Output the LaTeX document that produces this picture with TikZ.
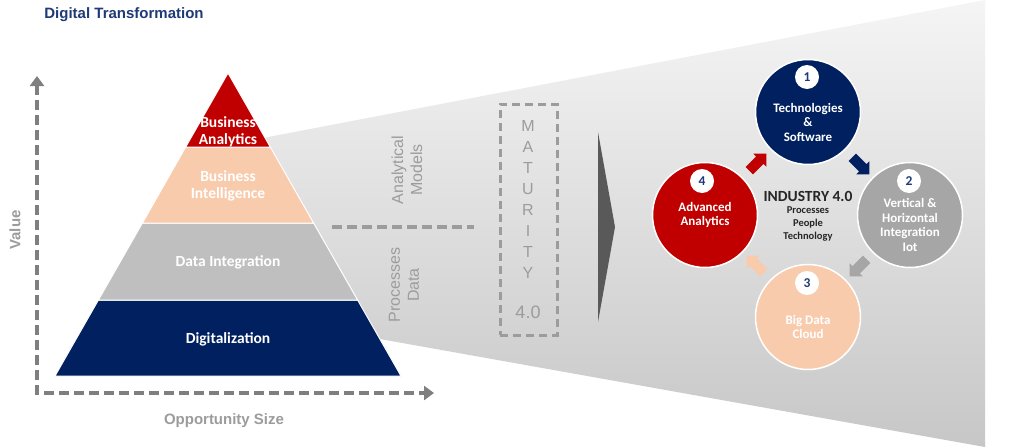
\documentclass[tikz,border=0pt]{standalone}
\usepackage{fontspec}
\setmainfont{Carlito}
\newfontfamily\arialfont{Liberation Sans}
\usetikzlibrary{arrows.meta,shapes.arrows}
\definecolor{dtnavy}{HTML}{002060}
\definecolor{dtred}{HTML}{C00000}
\definecolor{dtpeach}{HTML}{F8CBAD}
\definecolor{dtgray}{HTML}{BFBFBF}
\definecolor{dtcircgray}{HTML}{A6A6A6}
\definecolor{dtmid}{HTML}{9C9C9C}
\definecolor{dtaxis}{HTML}{7F7F7F}
\definecolor{dttitle}{HTML}{1F3A78}
\definecolor{dtdark}{HTML}{262626}

\begin{document}
\begin{tikzpicture}[x=1pt,y=-1pt,
  axis/.style={dtaxis,line width=4pt,dash pattern=on 10pt off 5pt},
  layer/.style={draw=white,line width=1pt},
  ltext/.style={text=white,font=\bfseries\fontsize{15.5}{17.5}\selectfont,align=center},
  gtext/.style={text=dtmid,font=\arialfont\fontsize{16}{19}\selectfont,align=center,rotate=90},
  mat/.style={text=dtmid,font=\arialfont\fontsize{16}{16}\selectfont,inner sep=0pt},
  cyc/.style={circle,minimum size=105pt,inner sep=0pt,draw=white,line width=1.5pt},
  ctext/.style={text=white,font=\bfseries\fontsize{13}{14.5}\selectfont,align=center},
  badge/.style={circle,fill=white,minimum size=24pt,inner sep=0pt,text=dttitle,font=\bfseries\fontsize{13.5}{13.5}\selectfont},
  blockarrow/.style={single arrow,minimum height=24pt,inner xsep=0pt,inner ysep=5pt,single arrow head extend=4pt}
]
\useasboundingbox (0,0) rectangle (1024,447);
\fill[white] (0,0) rectangle (1024,447);

% funnel in the background
\shade[top color=black!4,bottom color=black!22] (195,151) -- (985,0) -- (985,447) -- (195,306) -- cycle;

% title
\node[text=dttitle,font=\arialfont\bfseries\fontsize{15}{15}\selectfont] (title) at (124,15) {Digital Transformation};

% axes
\coordinate (vtop) at (37,76);
\coordinate (orig) at (37,393);
\coordinate (hend) at (434,393);
\draw[axis,{Triangle[width=14pt,length=10pt]}-{Triangle[width=14pt,length=10pt]}] (vtop) -- (orig) -- (hend);
\node[text=dtmid,font=\arialfont\bfseries\fontsize{15}{15}\selectfont,rotate=90] (value) at (15,230) {Value};
\node[text=dtmid,font=\arialfont\bfseries\fontsize{15}{15}\selectfont] (opp) at (224,421) {Opportunity Size};

% pyramid
\fill[dtnavy,layer] (98.4,300) -- (357.6,300) -- (401,376) -- (55,376) -- cycle;
\fill[dtgray,layer] (142.4,223) -- (313.6,223) -- (357.6,300) -- (98.4,300) -- cycle;
\fill[dtpeach,layer] (185.7,147) -- (270.3,147) -- (313.6,223) -- (142.4,223) -- cycle;
\fill[dtred,layer] (228,73) -- (270.3,147) -- (185.7,147) -- cycle;
\node[ltext] (ba) at (228,132) {Business\\Analytics};
\node[ltext] (bi) at (228,186) {Business\\Intelligence};
\node[ltext] (di) at (228,262) {Data Integration};
\node[ltext] (dg) at (228,339) {Digitalization};

% middle part
\coordinate (sepl) at (332,227);
\coordinate (sepr) at (474,227);
\draw[dtmid,line width=4pt,dash pattern=on 10pt off 5pt] (sepl) -- (sepr);
\node[gtext] (am) at (407,170) {Analytical\\Models};
\node[gtext] (pd) at (404,285) {Processes\\Data};

\node[draw=dtmid,line width=3pt,dash pattern=on 8pt off 5pt,minimum width=57pt,minimum height=231pt,inner sep=0pt] (matbox) at (528.5,219.5) {};
\foreach \ch [count=\i from 0] in {M,A,T,U,R,I,T,Y}
  \node[mat] (m\i) at (528,126+21*\i) {\ch};
\node[mat,font=\arialfont\fontsize{18}{18}\selectfont] (mv) at (528,312) {4.0};

\fill[black!65] (598,132) -- (615,227) -- (598,322) -- cycle;

% industry 4.0 cycle
\node[cyc,fill=dtnavy] (c1) at (808,112) {};
\node[cyc,fill=dtcircgray] (c2) at (910,215) {};
\node[cyc,fill=dtpeach] (c3) at (808,317) {};
\node[cyc,fill=dtred] (c4) at (705,215) {};

\node[badge] (n1) at (807,77) {1};
\node[badge] (n2) at (909,181) {2};
\node[badge] (n3) at (807,283) {3};
\node[badge] (n4) at (702,181) {4};

\node[ctext] (t1) at (808,122) {Technologies\\\&\\Software};
\node[ctext] (t2) at (910,225) {Vertical \&\\Horizontal\\Integration\\Iot};
\node[ctext] (t3) at (808,327) {Big Data\\Cloud};
\node[ctext] (t4) at (705,215) {Advanced\\Analytics};

\node[blockarrow,fill=dtred,rotate=45] (a41) at (756,164) {};
\node[blockarrow,fill=dtnavy,rotate=-45] (a12) at (859,164) {};
\node[blockarrow,fill=dtcircgray,rotate=-135] (a23) at (860,266) {};
\node[blockarrow,fill=dtpeach,rotate=135] (a34) at (757,266) {};

\node[text=dtdark,font=\bfseries\fontsize{15.5}{15.5}\selectfont] (ind) at (808,196) {INDUSTRY 4.0};
\node[text=dtdark,font=\bfseries\fontsize{10.5}{13}\selectfont,align=center] (ppt) at (808,224) {Processes\\People\\Technology};
\end{tikzpicture}
\end{document}
